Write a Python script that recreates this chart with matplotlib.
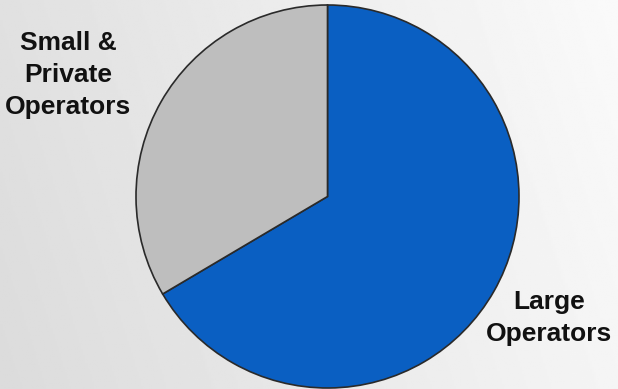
import numpy as np
import matplotlib
matplotlib.use('Agg')
import matplotlib.pyplot as plt

# share of operators (%)
labels = ['Large\nOperators', 'Small &\nPrivate\nOperators']
shares = [66.5, 33.5]
colors = ['#0a5fc2', '#bebebe']

plt.rcParams['font.family'] = ['Liberation Sans', 'DejaVu Sans']

fig = plt.figure(figsize=(6.18, 3.89), dpi=100)
ax = fig.add_axes([0, 0, 1, 1])

# light brushed-metal like background (plain gradient)
xx = np.linspace(0, 1, 300)
yy = np.linspace(0, 1, 200)
X, Y = np.meshgrid(xx, yy)
bg = 0.86 + 0.10 * X + 0.02 * Y
ax.imshow(bg, extent=[0, 618, 0, 389], cmap='gray', vmin=0, vmax=1,
          origin='lower', aspect='auto', zorder=0)

ax.pie(shares, colors=colors, startangle=90, counterclock=False,
       center=(327.5, 192.5), radius=191.5, frame=True,
       wedgeprops={'edgecolor': '#2a2a2a', 'linewidth': 1.2})
ax.set_xlim(0, 618)
ax.set_ylim(0, 389)
ax.set_aspect('equal')
ax.axis('off')

ax.text(549, 389 - 318, labels[0], ha='center', va='center',
        fontsize=19, fontweight='bold', color='#111111', linespacing=1.42)
ax.text(68, 389 - 75, labels[1], ha='center', va='center',
        fontsize=19, fontweight='bold', color='#111111', linespacing=1.42)

fig.savefig('out.png', dpi=100)
